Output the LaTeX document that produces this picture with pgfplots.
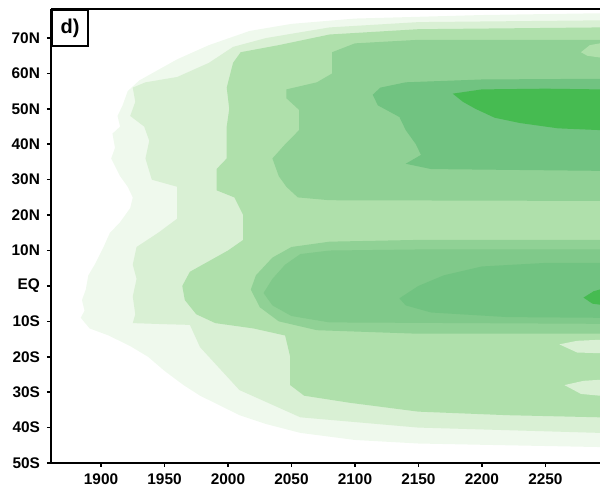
\documentclass[border=0pt]{standalone}
\usepackage{pgfplots}
\pgfplotsset{compat=1.18}
\usepackage{fontspec}
\setmainfont{Liberation Sans}
\usetikzlibrary{calc}
\definecolor{c1}{HTML}{EFF9ED}
\definecolor{c2}{HTML}{D9F0D4}
\definecolor{c3}{HTML}{AFE0AB}
\definecolor{c4}{HTML}{90D195}
\definecolor{c5}{HTML}{80C98A}
\definecolor{c6}{HTML}{71C381}
\definecolor{c7}{HTML}{46BB51}
\begin{document}
\begin{tikzpicture}
\begin{axis}[
  scale only axis, width=274.5pt, height=227pt,
  xmin=1860.6, xmax=2293, ymin=-50, ymax=78.2,
  axis lines*=left, axis line style={line width=1pt,-},
  xtick={1900,1950,2000,2050,2100,2150,2200,2250},
  xticklabels={1900,1950,2000,2050,2100,2150,2200,2250},
  ytick={-50,-40,-30,-20,-10,0,10,20,30,40,50,60,70},
  yticklabels={50S,40S,30S,20S,10S,EQ,10N,20N,30N,40N,50N,60N,70N},
  tick align=outside, major tick length=2pt,
  tick style={line width=0.8pt, black},
  ticklabel style={font=\fontsize{7.7}{9}\selectfont\bfseries},
  clip=false, axis on top,
]
% level 1
\addplot[fill=c1, draw=none] coordinates {(2293,77) (2200,76.5) (2100,75.5) (2050,74) (2017,72) (1985,68) (1960,64) (1945,61) (1930,58) (1921,55) (1917,51) (1913,48) (1915,45) (1909,43) (1911,39) (1908,36) (1915,31) (1921,28) (1925,25) (1923,22) (1915,18) (1907,15) (1902,11) (1895,6) (1890,3) (1888,-1) (1885,-4) (1887,-7) (1884,-9) (1891,-12) (1906,-14) (1923,-17) (1937,-20) (1950,-24) (1965,-28) (1978,-31) (1995,-34) (2009,-36.5) (2030,-39) (2057,-41.5) (2100,-43.5) (2150,-44.5) (2220,-45) (2293,-45.5)};
% level 2
\addplot[fill=c2, draw=none] coordinates {(2293,75) (2150,74.5) (2080,73) (2030,70) (2004,67.5) (1985,63) (1960,59) (1935,57.5) (1925,56) (1927,52) (1923,48) (1934,45) (1938,41) (1935,36) (1940,30) (1960,28) (1960,19) (1945,15) (1928,11) (1925,6) (1928,2) (1925,-3) (1927,-8) (1925,-10.5) (1950,-10.8) (1970,-11) (1978,-17.3) (2009,-29.4) (2057,-37.1) (2150,-40) (2293,-41.5)};
% level 3
\addplot[fill=c3, draw=none] coordinates {(2293,73) (2150,72.5) (2080,71) (2040,68) (2010,66) (2004,63) (1999,56) (2001,50) (1999,45) (1999,36) (1991,33) (1991,27) (2005,25) (2012,20) (2012,13) (2000,10) (1985,7) (1970,4) (1964,0) (1966,-4) (1975,-8) (1990,-10.5) (2020,-12) (2045,-14) (2049,-20) (2049,-28) (2060,-31) (2096,-33) (2150,-35.5) (2220,-36.5) (2293,-37.1)};
% level 4 north
\addplot[fill=c4, draw=none] coordinates {(2293,69.5) (2150,69.5) (2100,68.5) (2082,66) (2082,60) (2070,57.5) (2046,55.5) (2046,53) (2056,49.7) (2056,44) (2045,40) (2035,36) (2040,31) (2046,28) (2055,25) (2080,24.2) (2293,24)};
% light patch top right
\addplot[fill=c3, draw=none] coordinates {(2278,66) (2285,68) (2293,68.5) (2293,64.5) (2283,65)};
% level 6 north
\addplot[fill=c6, draw=none] coordinates {(2293,58.5) (2200,58.3) (2140,57.5) (2120,56) (2114,54) (2118,51) (2135,47.7) (2140,44) (2148,40) (2152,37) (2140,34.5) (2160,33) (2293,32.5)};
% level 7 north
\addplot[fill=c7, draw=none] coordinates {(2177,54.3) (2200,55.5) (2250,55.7) (2293,55.5) (2293,44) (2260,44.5) (2230,46) (2210,47.5) (2195,50) (2185,52)};
% level 4 south
\addplot[fill=c4, draw=none] coordinates {(2293,13) (2150,13) (2080,12.5) (2050,11) (2035,8) (2022,3) (2018,-1) (2025,-6) (2040,-10) (2070,-12.5) (2150,-13.5) (2293,-13.5)};
% level 5 south
\addplot[fill=c5, draw=none] coordinates {(2293,10.3) (2150,10.3) (2080,10) (2057,9) (2045,6) (2035,2) (2028,-2) (2035,-5.5) (2050,-8.5) (2080,-10.3) (2293,-10.7)};
% level 6 south
\addplot[fill=c6, draw=none] coordinates {(2135,-3.5) (2150,0) (2170,3) (2200,5.5) (2250,6.5) (2293,6.5) (2293,-9) (2220,-8.8) (2160,-7.5) (2140,-5.5)};
% level 7 south
\addplot[fill=c7, draw=none] coordinates {(2280,-3.3) (2288,-1.5) (2293,-1) (2293,-5.3) (2287,-5)};
% light patches south
\addplot[fill=c2, draw=none] coordinates {(2261,-16.5) (2275,-15.5) (2293,-15.2) (2293,-19) (2275,-18.8)};
\addplot[fill=c2, draw=none] coordinates {(2265,-28) (2280,-26.8) (2293,-26.5) (2293,-31) (2278,-30.5)};
\draw[line width=1pt] (rel axis cs:0,1) -- (rel axis cs:1,1);
\node[draw, line width=1pt, anchor=north west, minimum width=18pt, minimum height=18pt, inner sep=0pt, fill=white, font=\fontsize{10}{11}\selectfont\bfseries] at (rel axis cs:0,1) {d)};
\coordinate (ll) at (rel axis cs:0,0);
\coordinate (ur) at (rel axis cs:1,1);
\end{axis}
\pgfresetboundingbox
\path[use as bounding box] ($(ll)+(-25.5pt,-14.5pt)$) rectangle ($(ur)+(0,4.5pt)$);
\end{tikzpicture}
\end{document}
